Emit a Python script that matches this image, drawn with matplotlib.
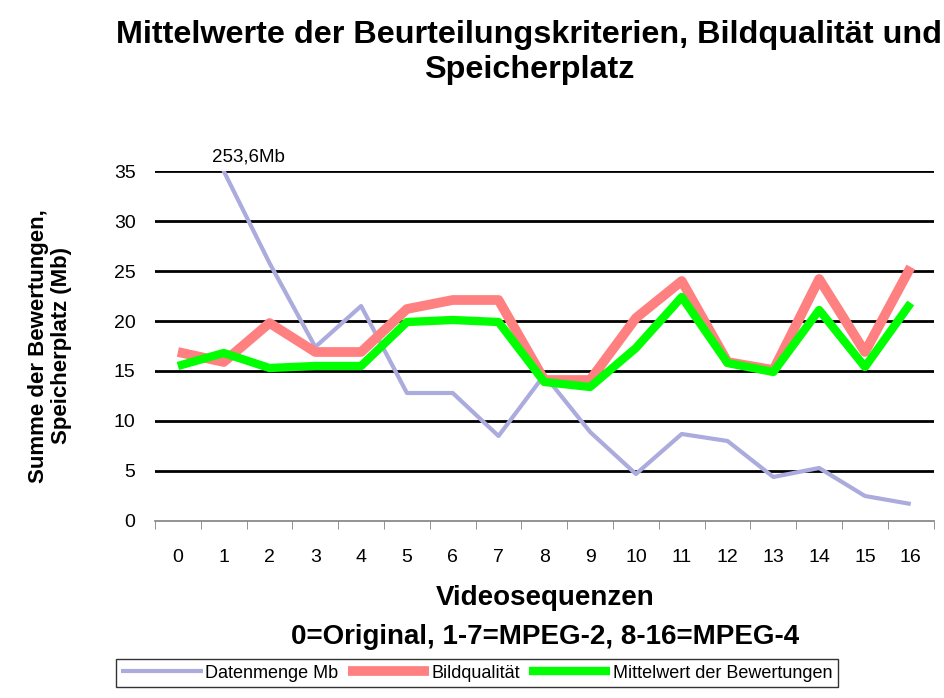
import numpy as np
import matplotlib
matplotlib.use("Agg")
import matplotlib.pyplot as plt

plt.rcParams['font.family'] = ['Liberation Sans', 'DejaVu Sans']

# Videosequenzen 0..16
sequenzen = [str(i) for i in range(17)]
datenmenge = [253.6, 35.0, 25.8, 17.4, 21.5, 12.8, 12.8, 8.5, 14.6, 8.9,
              4.7, 8.7, 8.0, 4.4, 5.3, 2.5, 1.7]
bildqualitaet = [16.9, 15.9, 19.8, 16.9, 16.9, 21.2, 22.1, 22.1, 14.1, 14.1,
                 20.3, 24.0, 15.9, 15.1, 24.2, 16.9, 25.4]
mittelwert = [15.5, 16.8, 15.3, 15.5, 15.5, 19.9, 20.1, 19.9, 13.9, 13.4,
              17.3, 22.4, 15.8, 14.9, 21.1, 15.4, 21.8]

fig = plt.figure(figsize=(9.45, 6.98), dpi=100)
ax = fig.add_axes([0.164, 0.2536, 0.824, 0.5014])

x = np.arange(len(sequenzen))
ax.plot(x, datenmenge, color='#ABABDD', lw=3, label='Datenmenge Mb', zorder=3,
        solid_capstyle='butt')
ax.plot(x, bildqualitaet, color='#FF8080', lw=7, label='Bildqualität', zorder=4,
        solid_capstyle='butt')
ax.plot(x, mittelwert, color='#00FF00', lw=6, label='Mittelwert der Bewertungen',
        zorder=5, solid_capstyle='butt')

ax.set_xlim(-0.5, 16.5)
ax.set_ylim(0, 35)
ax.set_yticks(range(0, 36, 5))
ax.tick_params(axis='y', length=0, labelsize=14, pad=14)
ax.set_xticks(x)
ax.set_xticklabels(sequenzen)
ax.set_xticks(np.arange(-0.5, 17, 1), minor=True)
ax.tick_params(axis='x', which='major', length=0, labelsize=14, pad=20)
ax.tick_params(axis='x', which='minor', length=6, color='#808080', direction='out')

for v in range(5, 36, 5):
    ax.axhline(v, color='black', lw=2, zorder=1)

for s in ['top', 'right', 'left']:
    ax.spines[s].set_visible(False)
ax.spines['bottom'].set_color('#808080')
ax.spines['bottom'].set_linewidth(1.2)

ax.annotate('253,6Mb', xy=(1, 35), xytext=(1.55, 35.6), fontsize=13.5,
            ha='center', va='bottom', annotation_clip=False)

fig.text(0.56, 0.925, 'Mittelwerte der Beurteilungskriterien, Bildqualität und\nSpeicherplatz',
         ha='center', va='center', fontsize=23.3, fontweight='bold', linespacing=1.2)

ax.set_ylabel('Summe der Bewertungen,\nSpeicherplatz (Mb)', fontsize=16,
              fontweight='bold', labelpad=30, linespacing=1.15)
fig.text(545 / 945, 1 - 598 / 698, 'Videosequenzen', ha='center', va='center',
         fontsize=20, fontweight='bold')
fig.text(545 / 945, 1 - 637 / 698, '0=Original, 1-7=MPEG-2, 8-16=MPEG-4',
         ha='center', va='center', fontsize=20, fontweight='bold')

leg = fig.legend(loc='center', bbox_to_anchor=(477 / 945, 1 - 673 / 698), ncol=3,
                 fontsize=13, frameon=True, fancybox=False, edgecolor='black',
                 handlelength=4.5, handletextpad=0.15, columnspacing=0.5,
                 borderpad=0.3, borderaxespad=0)
leg.get_frame().set_linewidth(1)

fig.savefig('out.png', dpi=100)
